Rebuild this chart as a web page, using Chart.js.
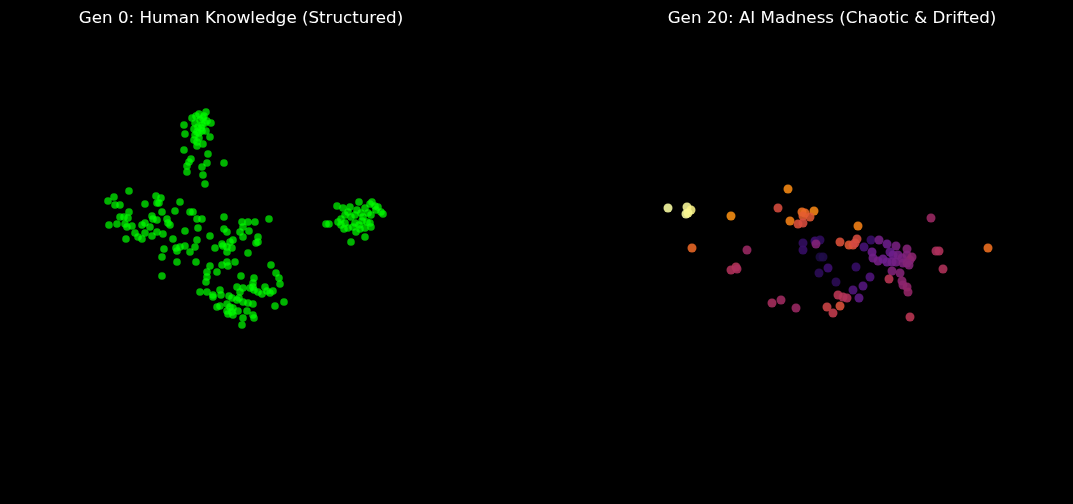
<!DOCTYPE html>
<html>
<head>
<meta charset="utf-8">
<script src="https://cdn.jsdelivr.net/npm/chart.js@4"></script>
<style>
  html, body { margin: 0; padding: 0; background: #000; }
  #wrap { position: relative; width: 1073px; height: 504px; background: #000; overflow: hidden; }
  .panel { position: absolute; top: 0; width: 482px; height: 504px; }
</style>
</head>
<body>
<div id="wrap">
  <div class="panel" style="left:0px"><canvas id="gen0" width="482" height="504"></canvas></div>
  <div class="panel" style="left:591px"><canvas id="gen20" width="482" height="504"></canvas></div>
</div>
<script>
// embedding coordinates
const gen0Top = [[20.6,11.2],[19.9,11.4],[19.6,11.6],[19.2,11.8],[20.3,11.8],[20.7,12.1],[21.1,12.3],[20.5,12.3],
  [18.4,12.5],[19.5,12.3],[19.8,12.7],[20.2,12.5],[19.4,12.9],[19.7,13.2],[20.2,13.1],[20.6,13.1],[18.5,13.4],
  [19.5,13.5],[19.9,13.3],[21.0,13.7],[19.4,14.0],[19.7,14.2],[20.3,14.4],[19.7,14.6],[18.4,15.0],[20.8,15.4],
  [19.1,15.9],[18.9,16.2],[22.4,16.3],[20.7,16.3],[18.7,16.6],[20.2,16.7],[18.7,17.2],[20.3,17.5],[20.5,18.4],
  [20.0,12.0],[20.4,11.6],[19.9,13.8],[20.1,12.8]];

const gen0Main = [[12.9,19.1],[11.4,19.7],[10.8,20.1],[11.5,20.5],[12.0,20.5],[15.6,19.6],[16.1,19.8],[15.7,20.3],
  [15.9,20.3],[14.5,20.4],[18.0,20.2],[12.9,21.2],[16.2,21.2],[17.5,21.1],[19.0,21.2],[19.3,21.2],[12.0,21.7],
  [12.4,21.7],[12.8,21.8],[15.2,21.6],[15.3,21.9],[15.7,22.0],[16.7,21.9],[16.8,22.3],[17.0,22.5],[19.7,21.9],
  [10.9,22.5],[11.7,22.4],[12.5,22.4],[12.7,22.7],[13.2,22.6],[14.2,22.5],[14.5,22.3],[15.0,22.7],[19.8,22.8],
  [13.5,23.3],[13.8,23.7],[14.2,23.9],[14.5,23.3],[15.7,23.2],[15.2,23.6],[16.3,23.4],[18.5,23.1],[12.6,23.9],
  [17.3,23.9],[19.7,24.0],[16.4,24.9],[17.6,24.8],[18.0,24.7],[18.5,24.6],[17.7,25.1],[19.0,25.2],[19.5,24.7],
  [16.2,25.7],[17.7,26.2],[19.6,26.2],[16.2,27.6],
  [20.2,21.9],[22.4,21.7],[24.2,22.2],[24.8,22.2],[25.5,22.2],[26.9,21.9],[22.4,22.9],[22.7,23.2],[24.3,22.7],
  [24.0,23.2],[24.3,23.7],[24.9,23.1],[21.0,23.6],[23.3,24.0],[23.0,24.2],[22.7,24.7],[22.3,24.6],[23.2,24.8],
  [22.7,25.2],[22.2,24.4],[25.8,23.7],[25.8,24.2],[25.6,24.3],[21.5,24.8],[24.8,25.3],[21.0,26.6],[22.2,26.5],
  [22.7,26.2],[22.8,26.6],[23.5,26.2],[27.1,26.5],[20.7,27.2],[20.7,27.7],[20.6,28.2],[21.7,27.2],[24.1,27.6],
  [27.6,27.3],[27.9,27.8],[28.0,28.4],[25.4,27.8],[25.3,28.3],[20.0,29.2],[20.7,29.2],[21.3,29.5],[21.3,29.7],
  [22.0,29.0],[22.1,29.5],[23.7,28.7],[24.3,28.8],[24.0,29.2],[23.9,29.8],[24.3,30.2],[23.7,30.0],[22.9,29.6],
  [23.2,29.8],[22.7,30.4],[23.0,30.7],[23.3,30.8],[25.0,28.8],[25.3,28.7],[25.4,29.0],[25.8,29.2],[26.2,29.4],
  [26.5,28.7],[26.7,29.1],[27.3,29.1],[27.0,29.3],[27.5,30.6],[28.4,30.2],[24.8,30.3],[25.3,30.4],[21.7,30.7],
  [22.0,30.6],[22.7,31.1],[23.2,31.2],[23.8,31.1],[24.7,31.1],[25.3,31.5],[25.4,31.8],[24.3,31.8],[24.2,32.5],
  [22.8,31.4],[23.3,31.5]];

const gen0Side = [[32.6,22.4],[32.9,22.4],[33.8,22.2],[33.7,20.6],[34.3,20.8],[34.5,21.5],[35.0,20.7],[35.9,20.2],
  [37.0,20.4],[37.2,20.2],[37.5,20.6],[37.8,20.7],[38.1,21.2],[38.3,21.4],[36.5,20.8],[36.1,21.3],[36.8,21.3],
  [37.1,21.5],[34.1,21.9],[34.5,22.3],[34.1,22.5],[35.1,21.7],[35.5,21.5],[35.5,22.3],[35.9,22.5],[36.3,21.7],
  [36.7,22.2],[37.0,22.3],[34.4,22.9],[34.8,22.8],[35.3,22.7],[36.5,22.8],[37.1,22.7],[35.6,23.2],[36.0,22.9],
  [35.1,24.2],[36.5,23.7],[34.8,21.2],[35.7,21.0],[37.6,21.0],[36.2,22.1]];

// [x, y, drift]
const gen20Points = [[66.8,20.8,1.0],[68.7,20.7,0.99],[69.1,21.0,0.97],[68.6,21.4,1.0],[68.8,21.3,0.98],
  [73.1,21.6,0.75],[69.2,24.8,0.66],[74.7,25.0,0.42],[73.1,27.0,0.47],[73.6,26.7,0.48],[73.7,26.9,0.46],
  [78.8,18.9,0.74],[77.8,20.8,0.58],[79.0,22.1,0.72],[79.8,22.4,0.60],[80.2,21.2,0.68],[80.5,21.3,0.66],
  [80.3,21.6,0.63],[81.4,21.1,0.73],[81.0,21.7,0.62],[80.3,22.3,0.58],[80.3,24.3,0.17],[80.3,25.0,0.18],
  [81.5,24.1,0.20],[82.0,24.0,0.16],[81.6,24.4,0.36],[84.0,24.2,0.60],[84.9,24.5,0.62],[85.3,24.5,0.60],
  [85.5,24.3,0.57],[85.7,23.9,0.58],[85.8,22.6,0.72],[82.0,25.7,0.10],[82.3,25.7,0.12],[82.8,26.8,0.20],
  [81.9,27.3,0.15],[83.6,28.2,0.15],[85.6,26.7,0.18],[87.0,27.7,0.24],[86.3,28.6,0.25],[85.3,29.0,0.24],
  [85.9,29.8,0.27],[83.8,29.5,0.50],[84.3,29.7,0.48],[84.7,29.8,0.47],[84.0,30.6,0.60],[82.7,30.7,0.55],
  [83.3,31.3,0.52],[77.2,30.3,0.45],[78.1,30.0,0.43],[79.6,30.8,0.42],[87.1,24.0,0.18],[93.1,21.8,0.42],
  [98.8,24.8,0.68],[93.9,25.1,0.47],[93.6,25.1,0.46],[94.3,26.9,0.47],[91.0,31.7,0.50],[87.9,24.0,0.32],
  [88.7,24.4,0.30],[89.6,24.6,0.33],[90.7,24.9,0.36],[86.4,24.7,0.22],[87.2,25.2,0.30],[87.3,25.8,0.31],
  [87.8,26.1,0.32],[88.3,25.9,0.30],[89.0,25.2,0.28],[89.3,25.5,0.30],[89.8,25.5,0.32],[90.2,25.8,0.33],
  [90.7,25.5,0.35],[91.0,26.0,0.37],[91.2,25.7,0.38],[88.7,26.2,0.30],[89.2,26.2,0.31],[89.6,26.2,0.32],
  [90.3,26.3,0.34],[90.7,26.3,0.36],[90.9,26.5,0.36],[89.2,27.1,0.35],[90.0,27.3,0.36],[88.9,27.9,0.50],
  [90.2,28.1,0.38],[90.3,28.5,0.38],[90.7,28.7,0.39],[90.8,29.2,0.40]];

const titles = ['Gen 0: Human Knowledge (Structured)', 'Gen 20: AI Madness (Chaotic & Drifted)'];

// inferno-like colour ramp, violet a little bluer to match the picture
const infernoStops = ['#000004', '#1a0b40', '#3e0f70', '#6c1e8c', '#932667', '#bc3754',
  '#dd513a', '#f37819', '#fca50a', '#f6d746', '#fcffa4'];

function inferno(v, alpha) {
  const t = Math.max(0, Math.min(1, v)) * 10;
  const i = Math.min(9, Math.floor(t));
  const f = t - i;
  const a = infernoStops[i], b = infernoStops[i + 1];
  const c = k => {
    const p = parseInt(a.substr(k, 2), 16), q = parseInt(b.substr(k, 2), 16);
    return Math.round(p + (q - p) * f);
  };
  return 'rgba(' + c(1) + ',' + c(3) + ',' + c(5) + ',' + alpha + ')';
}

const toXY = p => ({ x: p[0], y: p[1] });

function makeOptions(title, xmin, xmax) {
  return {
    responsive: false,
    animation: false,
    events: [],
    layout: { padding: 0, autoPadding: false },
    scales: {
      x: { type: 'linear', display: false, min: xmin, max: xmax },
      y: { type: 'linear', display: false, reverse: true, min: 3.5, max: 50.4 }
    },
    plugins: {
      legend: { display: false },
      tooltip: { enabled: false },
      title: {
        display: true,
        text: title,
        color: '#ffffff',
        font: { family: 'DejaVu Sans', size: 16.7, weight: 'normal', lineHeight: 1.2 },
        padding: { top: 9, bottom: 6 }
      }
    }
  };
}

Chart.defaults.font.family = 'DejaVu Sans';

new Chart(document.getElementById('gen0'), {
  type: 'scatter',
  data: {
    datasets: [{
      data: gen0Top.concat(gen0Main, gen0Side).map(toXY),
      backgroundColor: 'rgba(0,255,0,0.7)',
      borderWidth: 0,
      pointRadius: 3.8
    }]
  },
  options: makeOptions(titles[0], 0, 48.2)
});

new Chart(document.getElementById('gen20'), {
  type: 'scatter',
  data: {
    datasets: [{
      data: gen20Points.map(toXY),
      backgroundColor: gen20Points.map(p => inferno(p[2], 0.88)),
      borderWidth: 0,
      pointRadius: 4.5
    }]
  },
  options: makeOptions(titles[1], 59.1, 107.3)
});
</script>
</body>
</html>
